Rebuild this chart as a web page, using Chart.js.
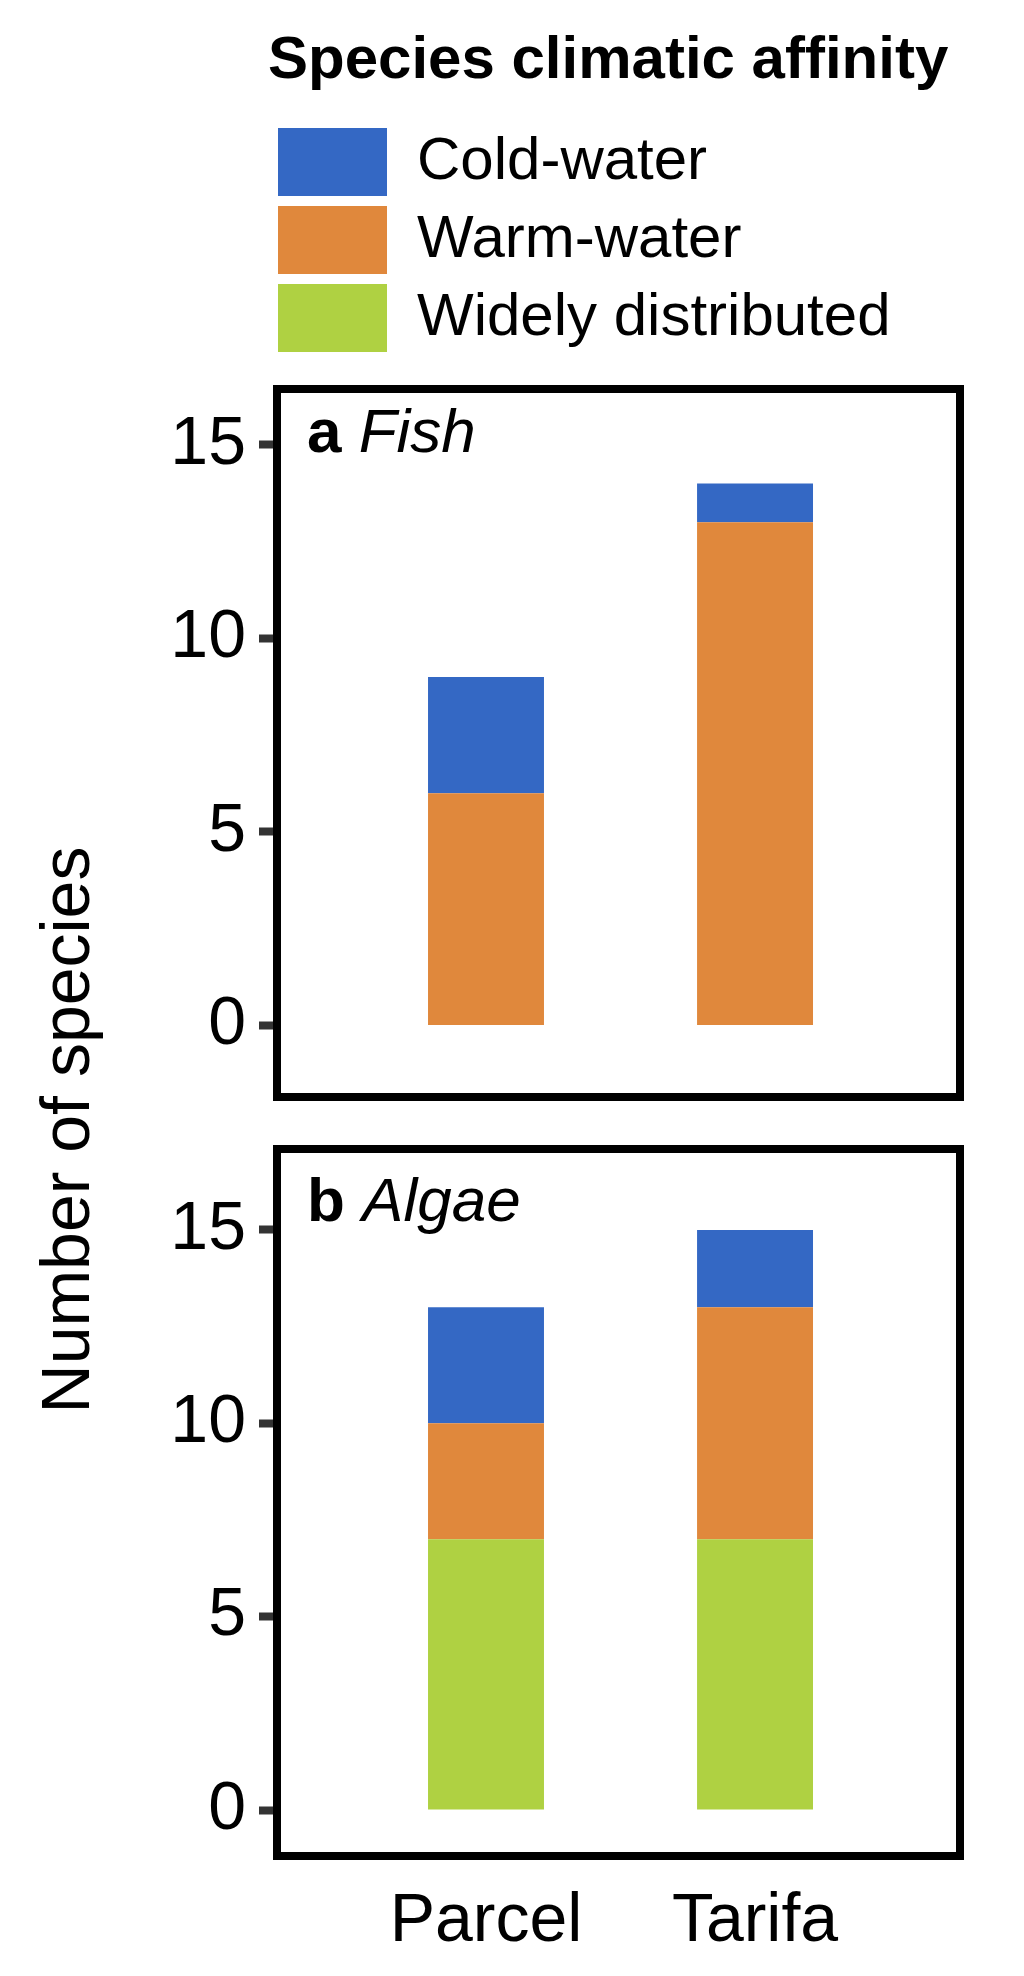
<!DOCTYPE html>
<html>
<head>
<meta charset="utf-8">
<title>Species climatic affinity</title>
<script src="https://cdn.jsdelivr.net/npm/chart.js@4.4.1/dist/chart.umd.min.js"></script>
<style>
  html, body { margin: 0; padding: 0; background: #fff; }
  #figure { position: relative; width: 1024px; height: 1976px; overflow: hidden; }
  canvas { position: absolute; }
  #legendChart { left: 268px; top: 0; }
  #fishChart { left: 0; top: 313px; }
  #algaeChart { left: 0; top: 1073px; }
  #yTitle {
    position: absolute; left: -335px; top: 1096px; width: 800px; height: 68px;
    line-height: 68px; font-size: 68px; text-align: center; white-space: nowrap;
    font-family: 'Liberation Sans', Arial, sans-serif; color: #000;
    transform: rotate(-90deg);
  }
</style>
</head>
<body>
<div id="figure">
  <canvas id="legendChart" width="700" height="880"></canvas>
  <canvas id="fishChart" width="1024" height="860"></canvas>
  <canvas id="algaeChart" width="1024" height="903"></canvas>
  <div id="yTitle">Number of species</div>
</div>
<script>
// data
let sites = ['Parcel', 'Tarifa'];
let affinities = ['Cold-water', 'Warm-water', 'Widely distributed'];
let affinityColors = ['#3468C4', '#E0883C', '#AFD142'];

let fishCold = [3, 1];
let fishWarm = [6, 13];
let fishWide = [0, 0];

let algaeCold = [3, 2];
let algaeWarm = [3, 6];
let algaeWide = [7, 7];

let yTicks = [0, 5, 10, 15];

const FONT = "'Liberation Sans', Arial, sans-serif";
Chart.defaults.font.family = FONT;
Chart.defaults.color = '#000';

// black frame round each panel
const panelBox = {
  id: 'panelBox',
  afterDraw(chart) {
    const {ctx, chartArea: a} = chart;
    ctx.save();
    ctx.strokeStyle = '#000';
    ctx.lineWidth = 8;
    ctx.strokeRect(a.left - 4, a.top - 4, a.width + 8, a.height + 8);
    ctx.restore();
  }
};

// "a Fish" / "b Algae" tag in the top left corner
const panelLabel = {
  id: 'panelLabel',
  afterDraw(chart, args, opts) {
    const {ctx, chartArea} = chart;
    const x = chartArea.left + 26;
    const y = chartArea.top + opts.offset;
    ctx.save();
    ctx.fillStyle = '#000';
    ctx.textBaseline = 'alphabetic';
    ctx.font = 'bold 62px ' + FONT;
    ctx.fillText(opts.letter, x, y);
    const w = ctx.measureText(opts.letter + ' ').width;
    ctx.font = 'italic 62px ' + FONT;
    ctx.fillText(opts.name, x + w, y);
    ctx.restore();
  }
};

function points(values) {
  return sites.map((s, i) => ({x: i + 1, y: values[i]}));
}

// bottom of the stack first
function stackedSets(cold, warm, wide) {
  return [
    {label: affinities[2], data: points(wide), backgroundColor: affinityColors[2]},
    {label: affinities[1], data: points(warm), backgroundColor: affinityColors[1]},
    {label: affinities[0], data: points(cold), backgroundColor: affinityColors[0]}
  ].map(d => Object.assign(d, {borderWidth: 0, barPercentage: 0.431, categoryPercentage: 1}));
}

function panelOptions(yMin, yMax, showX, label, padding) {
  return {
    responsive: false,
    animation: false,
    layout: {padding: padding},
    plugins: {
      legend: {display: false},
      tooltip: {enabled: false},
      panelLabel: label
    },
    scales: {
      x: {
        type: 'linear',
        display: showX,
        stacked: true,
        offset: false,
        bounds: 'data',
        min: 0.238,
        max: 2.747,
        afterBuildTicks: scale => { scale.ticks = sites.map((s, i) => ({value: i + 1})); },
        afterFit: scale => { if (showX) scale.height = 124; },
        grid: {display: false, drawTicks: false, offset: false},
        border: {display: false},
        ticks: {
          font: {size: 68},
          color: '#000',
          padding: 29,
          maxRotation: 0,
          callback: v => sites[v - 1]
        }
      },
      y: {
        stacked: true,
        bounds: 'data',
        min: yMin,
        max: yMax,
        afterBuildTicks: scale => { scale.ticks = yTicks.map(v => ({value: v})); },
        afterFit: scale => { scale.width = 281; },
        grid: {
          drawOnChartArea: false,
          drawTicks: true,
          tickLength: 22,
          tickWidth: 8,
          tickColor: '#333333'
        },
        border: {display: false},
        ticks: {font: {size: 68}, color: '#000', padding: 13}
      }
    }
  };
}

let legendChart = new Chart(document.getElementById('legendChart').getContext('2d'), {
  type: 'bar',
  data: {
    labels: [],
    datasets: affinities.map((a, i) => ({label: a, data: [], backgroundColor: affinityColors[i], borderWidth: 0}))
  },
  options: {
    responsive: false,
    animation: false,
    scales: {x: {display: false}, y: {display: false}},
    plugins: {
      tooltip: {enabled: false},
      legend: {
        display: true,
        position: 'top',
        align: 'start',
        labels: {
          boxWidth: 109,
          boxHeight: 68,
          padding: 10,
          color: '#000',
          font: {size: 60, lineHeight: 1.2}
        },
        title: {
          display: true,
          position: 'start',
          text: 'Species climatic affinity',
          color: '#000',
          font: {size: 60, weight: 'bold', lineHeight: 1.2},
          padding: {top: 31, bottom: 15}
        }
      }
    }
  }
});

let fishChart = new Chart(document.getElementById('fishChart').getContext('2d'), {
  type: 'bar',
  data: {datasets: stackedSets(fishCold, fishWarm, fishWide)},
  options: panelOptions(-1.744, 16.34, false,
    {letter: 'a', name: 'Fish', offset: 59},
    {top: 80, bottom: 80, left: 0, right: 68}),
  plugins: [panelBox, panelLabel]
});

let algaeChart = new Chart(document.getElementById('algaeChart').getContext('2d'), {
  type: 'bar',
  data: {datasets: stackedSets(algaeCold, algaeWarm, algaeWide)},
  options: panelOptions(-1.086, 16.99, true,
    {letter: 'b', name: 'Algae', offset: 68},
    {top: 80, bottom: 0, left: 0, right: 68}),
  plugins: [panelBox, panelLabel]
});
</script>
</body>
</html>
